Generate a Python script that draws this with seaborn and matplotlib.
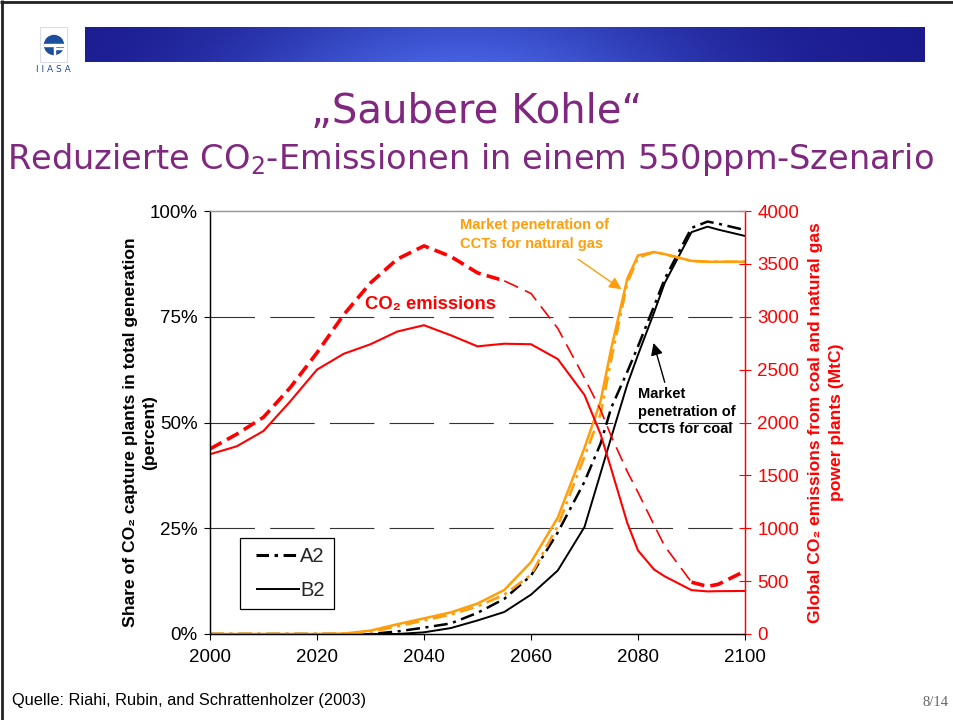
import numpy as np
import pandas as pd
import matplotlib
matplotlib.use("Agg")
import matplotlib.pyplot as plt
from matplotlib.lines import Line2D
from matplotlib.patches import Circle, Rectangle
from matplotlib.legend_handler import HandlerLine2D
import seaborn as sns

# ---------------- data ----------------
years = [2000, 2005, 2010, 2015, 2020, 2025, 2030, 2035, 2040, 2045, 2050, 2055,
         2060, 2065, 2070, 2073, 2075, 2078, 2080, 2083, 2085, 2090, 2093, 2095, 2100]
# share of CO2 capture plants (percent, left axis)
coal_a2 = [0, 0, 0, 0, 0, 0, 0, 0.6, 1.5, 2.5, 5.0, 8.3, 13.8, 24.0, 36.0, 45.0,
           53.5, 62.0, 68.0, 77.5, 84.0, 96.0, 97.5, 97.0, 95.5]
coal_b2 = [0, 0, 0, 0, 0, 0, 0, 0, 0.4, 1.4, 3.2, 5.2, 9.3, 15.0, 25.3, 38.0,
           46.5, 59.0, 66.0, 76.0, 83.0, 95.0, 96.3, 95.6, 94.1]
gas_a2 = [0, 0, 0, 0, 0, 0, 0.5, 1.8, 3.2, 4.6, 6.5, 9.3, 14.0, 25.5, 42.0, 52.0,
          65.0, 83.0, 89.0, 90.3, 89.8, 88.2, 88.0, 88.0, 88.0]
gas_b2 = [0, 0, 0, 0, 0, 0.1, 0.8, 2.3, 3.7, 5.1, 7.2, 10.4, 17.0, 27.5, 44.0, 55.0,
          67.5, 84.0, 89.5, 90.3, 89.8, 88.2, 88.0, 88.0, 88.0]
# global CO2 emissions (MtC, right axis)
co2_a2 = [1750, 1890, 2050, 2330, 2660, 3020, 3320, 3545, 3670, 3570, 3415, 3340,
          3220, 2890, 2420, 2120, 1870, 1535, 1340, 1030, 830, 490, 450, 470, 595]
co2_b2 = [1700, 1775, 1920, 2200, 2500, 2650, 2740, 2860, 2920, 2825, 2720, 2745,
          2740, 2600, 2260, 1890, 1560, 1050, 790, 610, 545, 415, 403, 405, 407]

x_ticks = [2000, 2020, 2040, 2060, 2080, 2100]
share_ticks = [0, 25, 50, 75, 100]
share_labels = ["0%", "25%", "50%", "75%", "100%"]
co2_ticks = [0, 500, 1000, 1500, 2000, 2500, 3000, 3500, 4000]
legend_labels = ["A2", "B2"]

# ---------------- style ----------------
sns.set_theme(style="white")
plt.rcParams["font.family"] = ["Liberation Sans", "DejaVu Sans"]
plt.rcParams["lines.scale_dashes"] = False
plt.rcParams["lines.solid_capstyle"] = "butt"

PURPLE = "#80287F"
ORANGE = "#FF9E0A"
RED = "#FF0000"

df = pd.DataFrame({"year": years, "coal_a2": coal_a2, "coal_b2": coal_b2,
                   "gas_a2": gas_a2, "gas_b2": gas_b2,
                   "co2_a2": co2_a2, "co2_b2": co2_b2})

W, H = 954, 720
fig = plt.figure(figsize=(W / 100, H / 100), dpi=100)
fig.patch.set_facecolor("white")

def fx(px):
    return px / W

def fy(py):
    return 1 - py / H

ax = fig.add_axes([fx(210), fy(634), fx(745) - fx(210), fy(211) - fy(634)])
ax2 = ax.twinx()

dashdot = (0, (10, 4, 2.2, 4))

# left axis series
sns.lineplot(data=df, x="year", y="coal_b2", ax=ax, color="black", lw=1.4, legend=False)
sns.lineplot(data=df, x="year", y="coal_a2", ax=ax, color="black", lw=1.8,
             linestyle=dashdot, legend=False)
sns.lineplot(data=df, x="year", y="gas_a2", ax=ax, color=ORANGE, lw=1.9,
             linestyle=dashdot, legend=False)
sns.lineplot(data=df, x="year", y="gas_b2", ax=ax, color=ORANGE, lw=1.8, legend=False)

# right axis series
sns.lineplot(data=df, x="year", y="co2_b2", ax=ax2, color=RED, lw=1.5, legend=False)
thick1 = df[df["year"] <= 2055]
thin = df[(df["year"] >= 2055) & (df["year"] <= 2090)]
thick2 = df[df["year"] >= 2090]
sns.lineplot(data=thick1, x="year", y="co2_a2", ax=ax2, color=RED, lw=2.6,
             linestyle=(0, (9.5, 4.5)), legend=False)
sns.lineplot(data=thin, x="year", y="co2_a2", ax=ax2, color=RED, lw=1.2,
             linestyle=(0, (11, 5.5)), legend=False)
sns.lineplot(data=thick2, x="year", y="co2_a2", ax=ax2, color=RED, lw=2.6,
             linestyle=(0, (9.5, 4.5)), legend=False)

# axes limits / ticks
ax.set_xlim(2000, 2100)
ax.set_ylim(0, 100)
ax2.set_ylim(0, 4000)
ax.set_xticks(x_ticks)
ax.set_xticklabels([str(v) for v in x_ticks])
ax.set_yticks(share_ticks)
ax.set_yticklabels(share_labels)
ax2.set_yticks(co2_ticks)
ax2.set_yticklabels([str(v) for v in co2_ticks])

for lvl in share_ticks[1:-1]:
    ax.axhline(lvl, color="#333333", lw=0.8, linestyle=(0, (32, 11)), zorder=0.5)

TICK_FS = 13.5
ax.tick_params(axis="x", direction="out", length=4, width=0.8, labelsize=TICK_FS,
               colors="black", pad=7, bottom=True)
ax.tick_params(axis="y", direction="out", length=4, width=0.8, labelsize=TICK_FS,
               colors="black", pad=5, left=True)
ax2.tick_params(axis="y", direction="inout", length=8, width=0.8, labelsize=TICK_FS,
                colors=RED, pad=5, right=True)

for a in (ax, ax2):
    a.spines["left"].set_color("black")
    a.spines["bottom"].set_color("black")
    a.spines["top"].set_color("#999999")
    a.spines["right"].set_color(RED)
    for s in a.spines.values():
        s.set_linewidth(0.9)
    a.set_xlabel("")

ax.set_ylabel("Share of CO₂ capture plants in total generation\n(percent)",
              fontsize=12.6, fontweight="bold", color="black",
              linespacing=1.3)
ax.yaxis.set_label_coords(-0.099, 0.476)
ax2.set_ylabel("Global CO₂ emissions from coal and natural gas\npower plants (MtC)",
               fontsize=12.6, fontweight="bold", color=RED, labelpad=6,
               linespacing=1.55)

# annotations
ax2.text(2029.0, 3120, "CO₂ emissions", color=RED, fontsize=13.3,
         fontweight="bold", ha="left", va="center")
ax.text(2046.7, 94.5, "Market penetration of\nCCTs for natural gas", color=ORANGE,
        fontsize=10.5, fontweight="bold", ha="left", va="center", linespacing=1.45)
ax.annotate("", xy=(2076.9, 81.5), xytext=(2068.8, 88.6),
            arrowprops=dict(arrowstyle="-|>", color=ORANGE, lw=1.0,
                            mutation_scale=18, shrinkA=0, shrinkB=0))
ax.text(2080.0, 52.6, "Market\npenetration of\nCCTs for coal", color="black",
        fontsize=10.5, fontweight="bold", ha="left", va="center", linespacing=1.35)
ax.annotate("", xy=(2082.9, 68.8), xytext=(2085.0, 59.5),
            arrowprops=dict(arrowstyle="-|>", color="black", lw=1.0,
                            mutation_scale=18, shrinkA=0, shrinkB=0))

# legend
handles = [Line2D([], [], color="black", lw=2.2, linestyle=(0, (9, 4, 2.5, 4))),
           Line2D([], [], color="black", lw=1.4)]
leg = ax.legend(handles, legend_labels, loc="lower left",
                bbox_to_anchor=(fx(240), fy(609)), bbox_transform=fig.transFigure,
                frameon=True, fancybox=False, edgecolor="black", framealpha=1,
                fontsize=14.5, handlelength=2.55, handletextpad=0.0,
                labelspacing=0.75, borderpad=0.45, borderaxespad=0,
                handler_map={Line2D: HandlerLine2D(xpad=0.35)})
leg.get_frame().set_linewidth(0.9)

# ---------------- slide decoration ----------------
fig.text(0.5, fy(112), "„Saubere Kohle“", ha="center", va="center",
         fontsize=29, color=PURPLE, family="DejaVu Sans")
fig.text(fx(470), fy(160), "Reduzierte CO$_2$-Emissionen in einem 550ppm-Szenario",
         ha="center", va="center", fontsize=24.2, color=PURPLE, family="DejaVu Sans")
fig.text(fx(12), fy(700), "Quelle: Riahi, Rubin, and Schrattenholzer (2003)",
         ha="left", va="center", fontsize=11.8, color="black")
fig.text(fx(949), fy(703), "8/14", ha="right", va="center", fontsize=10.5,
         color="#666666", family="Liberation Serif")

# frame lines
fig.add_artist(Line2D([fx(1.5), fx(1.5)], [0, 1], transform=fig.transFigure,
                      color="#222222", lw=2))
fig.add_artist(Line2D([0, 1], [fy(1.5), fy(1.5)], transform=fig.transFigure,
                      color="#222222", lw=2))

# banner
axb = fig.add_axes([fx(85), fy(62), fx(925) - fx(85), fy(27) - fy(62)])
gx = np.linspace(0, 1, 400)
gy = np.linspace(0, 1, 40)
GX, GY = np.meshgrid(gx, gy)
bright = np.exp(-((GX - 0.45) / 0.28) ** 2) * (0.75 + 0.25 * GY)
c0 = np.array([0.10, 0.10, 0.55])
c1 = np.array([0.27, 0.38, 0.88])
img = c0[None, None, :] + (c1 - c0)[None, None, :] * bright[:, :, None]
img = np.clip(img, 0, 1)
axb.imshow(img, aspect="auto", extent=(0, 1, 0, 1))
axb.set_axis_off()

# logo
axl = fig.add_axes([fx(38), fy(78), fx(70) - fx(38), fy(26) - fy(78)])
axl.set_xlim(38, 70)
axl.set_ylim(78, 26)
axl.set_axis_off()
axl.add_patch(Rectangle((40, 27), 27, 35, fill=False, ec="#d8dce8", lw=0.8))
axl.add_patch(Circle((54, 45), 9.5, color="#1d4f9c"))
axl.add_patch(Rectangle((44, 44), 20, 1.8, color="white"))
axl.add_patch(Rectangle((54, 47.5), 9, 1.5, color="white"))
axl.add_patch(Rectangle((53.5, 44), 1.6, 11, color="white"))
axl.text(53.5, 70, "I I A S A", ha="center", va="center", fontsize=6.5,
         color="#1d4f9c", family="DejaVu Sans Condensed")

fig.savefig("out.png", dpi=100, facecolor="white")
